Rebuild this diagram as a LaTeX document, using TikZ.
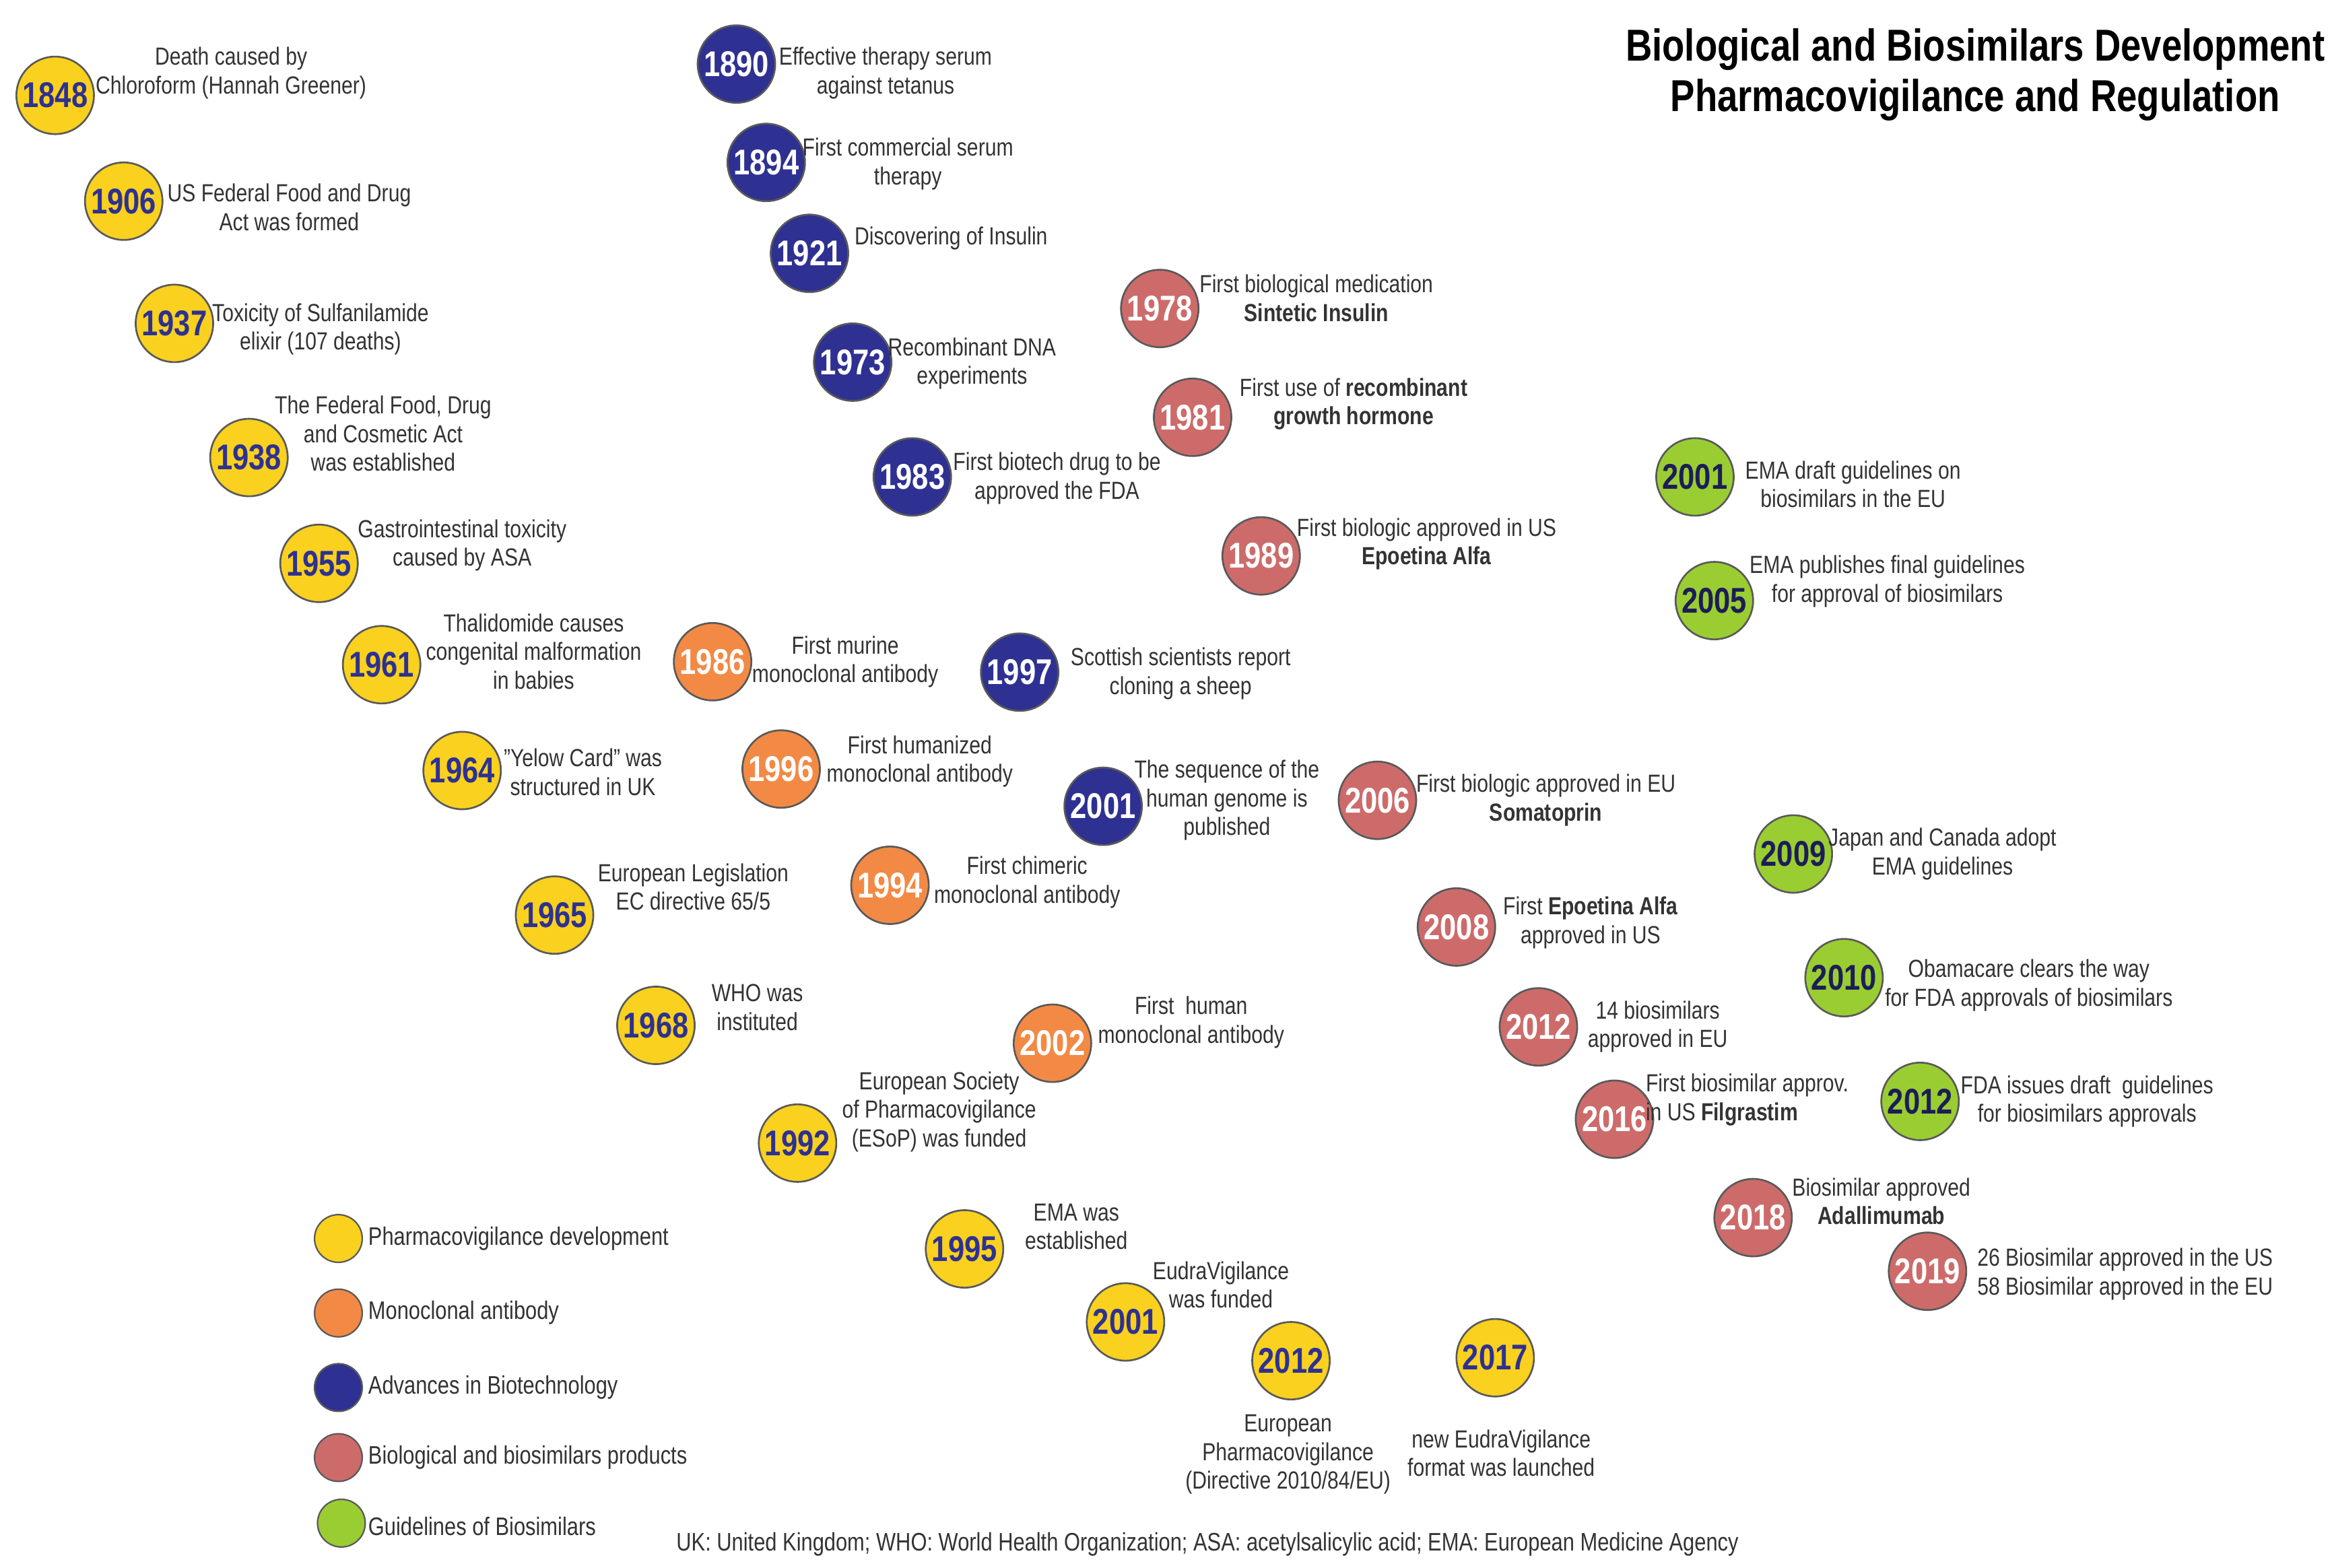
\documentclass[tikz,border=0pt]{standalone}
\usepackage{fontspec}
\setmainfont{Liberation Sans}[FakeStretch=0.82]
\usetikzlibrary{backgrounds}
\definecolor{ln}{HTML}{F7B573}
\definecolor{cy}{HTML}{F9D11E}
\definecolor{co}{HTML}{F28A45}
\definecolor{cb}{HTML}{2E3192}
\definecolor{cr}{HTML}{CD6B6B}
\definecolor{cg}{HTML}{9ACD32}
\definecolor{tx}{HTML}{333333}
\tikzset{
 yr/.style={circle,draw=black!65,line width=0.6pt,minimum size=26pt,inner sep=0pt,font=\fontsize{12}{12}\selectfont\bfseries},
 pv/.style={yr,fill=cy,text=cb},
 mo/.style={yr,fill=co,text=white},
 bt/.style={yr,fill=cb,text=white},
 bi/.style={yr,fill=cr,text=white},
 gl/.style={yr,fill=cg,text=cb!60!black},
 lb/.style={align=center,text=tx,font=\fontsize{8.3}{9.6}\selectfont,inner sep=1pt},
 tl/.style={ln,line width=2.6pt},
 lg/.style={circle,draw=black!65,line width=0.5pt,minimum size=16pt,inner sep=0pt},
 lgt/.style={anchor=west,text=tx,font=\fontsize{8.5}{10}\selectfont},
}
\begin{document}
\begin{tikzpicture}[x=0.5pt,y=-0.5pt]
\useasboundingbox (0,0) rectangle (1563,1052);
\fill[white] (0,0) rectangle (1563,1052);
% yellow
\node[pv] (y1848) at (37,64) {1848};
\node[pv] (y1906) at (83,135) {1906};
\node[pv] (y1937) at (117,217) {1937};
\node[pv] (y1938) at (167,307) {1938};
\node[pv] (y1955) at (214,378) {1955};
\node[pv] (y1961) at (256,446) {1961};
\node[pv] (y1964) at (310,517) {1964};
\node[pv] (y1965) at (372,614) {1965};
\node[pv] (y1968) at (440,688) {1968};
\node[pv] (y1992) at (535,767) {1992};
\node[pv] (y1995) at (647,838) {1995};
\node[pv] (y2001) at (755,887) {2001};
\node[pv] (y2012) at (866,913) {2012};
\node[pv] (y2017) at (1003,911) {2017};
% orange
\node[mo] (o1986) at (478,444) {1986};
\node[mo] (o1996) at (524,516) {1996};
\node[mo] (o1994) at (597,594) {1994};
\node[mo] (o2002) at (706,700) {2002};
% blue
\node[bt] (b1890) at (494,43) {1890};
\node[bt] (b1894) at (514,109) {1894};
\node[bt] (b1921) at (543,170) {1921};
\node[bt] (b1973) at (572,243) {1973};
\node[bt] (b1983) at (612,320) {1983};
\node[bt] (b1997) at (684,451) {1997};
\node[bt] (b2001) at (740,541) {2001};
% red
\node[bi] (r1978) at (778,207) {1978};
\node[bi] (r1981) at (800,280) {1981};
\node[bi] (r1989) at (846,373) {1989};
\node[bi] (r2006) at (924,537) {2006};
\node[bi] (r2008) at (977,622) {2008};
\node[bi] (r2012) at (1032,689) {2012};
\node[bi] (r2016) at (1083,751) {2016};
\node[bi] (r2018) at (1176,817) {2018};
\node[bi] (r2019) at (1293,853) {2019};
% green
\node[gl] (g2001) at (1137,320) {2001};
\node[gl] (g2005) at (1150,403) {2005};
\node[gl] (g2009) at (1203,573) {2009};
\node[gl] (g2010) at (1237,656) {2010};
\node[gl] (g2012) at (1288,739) {2012};
\coordinate (s2) at (250,33);
\coordinate (s4) at (714,12);
\coordinate (s5) at (1071,28);
\coordinate (eR) at (1560,800);
\begin{pgfonlayer}{background}
\draw[tl] plot[smooth,tension=0.6] coordinates {(y1848.center)(y1906.center)(y1937.center)(y1938.center)(y1955.center)(y1961.center)(y1964.center)(y1965.center)(y1968.center)(y1992.center)(y1995.center)(y2001.center)(y2012.center)(y2017.center)(r2019.center)};
\draw[tl] plot[smooth,tension=0.6] coordinates {(s2)(o1986.center)(o1996.center)(o1994.center)(o2002.center)(r2019.center)};
\draw[tl] plot[smooth,tension=0.6] coordinates {(b1890.center)(b1894.center)(b1921.center)(b1973.center)(b1983.center)(b1997.center)(b2001.center)(r2019.center)};
\draw[tl] plot[smooth,tension=0.6] coordinates {(s4)(r1978.center)(r1981.center)(r1989.center)(r2006.center)(r2008.center)(r2012.center)(r2016.center)(r2018.center)(r2019.center)};
\draw[tl] plot[smooth,tension=0.6] coordinates {(s5)(g2001.center)(g2005.center)(g2009.center)(g2010.center)(g2012.center)(r2019.center)};
\draw[tl] (r2019.center) .. controls (1400,860) and (1480,850) .. (eR);
\end{pgfonlayer}
% labels
\node[lb] (l1) at (155,49) {Death caused by\\Chloroform (Hannah Greener)};
\node[lb] (l2) at (194,139) {US Federal Food and Drug\\Act was formed};
\node[lb] (l3) at (215,221) {Toxicity of Sulfanilamide\\elixir (107 deaths)};
\node[lb] (l4) at (257,291) {The Federal Food, Drug\\and Cosmetic Act\\was established};
\node[lb] (l5) at (310,366) {Gastrointestinal toxicity\\caused by ASA};
\node[lb] (l6) at (358,437) {Thalidomide causes\\congenital malformation\\in babies};
\node[lb] (l7) at (391,518) {"Yelow Card" was\\structured in UK};
\node[lb] (l8) at (465,595) {European Legislation\\EC directive 65/5};
\node[lb] (l9) at (508,676) {WHO was\\instituted};
\node[lb] (l10) at (630,746) {European Society\\of Pharmacovigilance\\(ESoP) was funded};
\node[lb] (l11) at (722,823) {EMA was\\established};
\node[lb] (l12) at (819,862) {EudraVigilance\\was funded};
\node[lb] (l13) at (864,976) {European\\Pharmacovigilance\\(Directive 2010/84/EU)};
\node[lb] (l14) at (1007,975) {new EudraVigilance\\format was launched};
\node[lb] (l15) at (567,444) {First murine\\monoclonal antibody};
\node[lb] (l16) at (617,511) {First humanized\\monoclonal antibody};
\node[lb] (l17) at (689,592) {First chimeric\\monoclonal antibody};
\node[lb] (l18) at (799,686) {First\ \ human\\monoclonal antibody};
\node[lb] (l19) at (594,49) {Effective therapy serum\\against tetanus};
\node[lb] (l20) at (609,110) {First commercial serum\\therapy};
\node[lb] (l21) at (638,160) {Discovering of Insulin};
\node[lb] (l22) at (652,244) {Recombinant DNA\\experiments};
\node[lb] (l23) at (709,321) {First biotech drug to be\\approved the FDA};
\node[lb] (l24) at (792,452) {Scottish scientists report\\cloning a sheep};
\node[lb] (l25) at (823,537) {The sequence of the\\human genome is\\published};
\node[lb] (l26) at (883,200) {First biological medication\\\textbf{Sintetic Insulin}};
\node[lb] (l27) at (908,271) {First use of \textbf{recombinant}\\\textbf{growth hormone}};
\node[lb] (l28) at (957,365) {First biologic approved in US\\\textbf{Epoetina Alfa}};
\node[lb] (l29) at (1037,537) {First biologic approved in EU\\\textbf{Somatoprin}};
\node[lb] (l30) at (1067,619) {First \textbf{Epoetina Alfa}\\approved in US};
\node[lb] (l31) at (1112,689) {14 biosimilars\\approved in EU};
\node[lb,align=left] (l32) at (1172,738) {First biosimilar approv.\\in US \textbf{Filgrastim}};
\node[lb] (l33) at (1262,806) {Biosimilar approved\\\textbf{Adallimumab}};
\node[lb,align=left,anchor=west] (l34) at (1324,855) {26 Biosimilar approved in the US\\58 Biosimilar approved in the EU};
\node[lb] (l35) at (1243,325) {EMA draft guidelines on\\biosimilars in the EU};
\node[lb] (l36) at (1266,390) {EMA publishes final guidelines\\for approval of biosimilars};
\node[lb] (l37) at (1303,573) {Japan and Canada adopt\\EMA guidelines};
\node[lb] (l38) at (1361,661) {Obamacare clears the way\\for FDA approvals of biosimilars};
\node[lb] (l39) at (1400,739) {FDA issues draft\ \ guidelines\\for biosimilars approvals};
% title
\node[align=center,font=\fontsize{15}{17}\selectfont\bfseries,text=black] (title) at (1325,50) {Biological and Biosimilars Development\\Pharmacovigilance and Regulation};
% legend
\node[lg,fill=cy] (k1) at (227,831) {}; \node[lgt] (kt1) at (240,831) {Pharmacovigilance development};
\node[lg,fill=co] (k2) at (227,881) {}; \node[lgt] (kt2) at (240,881) {Monoclonal antibody};
\node[lg,fill=cb] (k3) at (227,931) {}; \node[lgt] (kt3) at (240,931) {Advances in Biotechnology};
\node[lg,fill=cr] (k4) at (227,978) {}; \node[lgt] (kt4) at (240,978) {Biological and biosimilars products};
\node[lg,fill=cg] (k5) at (229,1022) {}; \node[lgt] (kt5) at (240,1024) {Guidelines of Biosimilars};
\node[text=tx,font=\fontsize{8.5}{10}\selectfont] (foot) at (810,1036) {UK: United Kingdom; WHO: World Health Organization; ASA: acetylsalicylic acid; EMA: European Medicine Agency};
\end{tikzpicture}
\end{document}
